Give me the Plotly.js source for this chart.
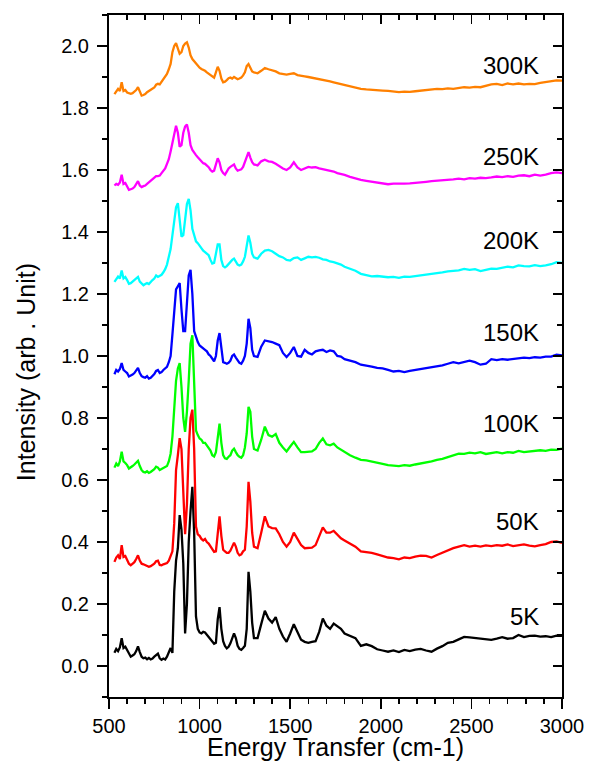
<!DOCTYPE html>
<html>
<head>
<meta charset="utf-8">
<script src="https://cdn.plot.ly/plotly-3.0.1.min.js"></script>
<style>html,body{margin:0;padding:0;background:#fff;}#chart{width:590px;height:776px;}</style>
</head>
<body>
<div id="chart"></div>
<script>
// Energy transfer grid (cm-1)
var energy = [
530,540,550,560,570,580,590,600,610,620,
630,640,650,660,670,680,690,700,710,720,
730,740,750,760,770,780,790,800,810,820,
830,840,850,860,870,880,890,900,910,920,
930,940,950,960,970,980,990,1000,1010,1020,
1030,1040,1050,1060,1070,1080,1090,1100,1110,1120,
1130,1140,1150,1160,1170,1180,1190,1200,1210,1220,
1230,1240,1250,1260,1270,1280,1290,1300,
1320,1340,1360,1380,1400,1420,1440,1460,1480,1500,1520,1540,1560,1580,1600,1620,1640,1660,1680,1700,1720,1740,1760,1780,1800,
1830,1860,1890,1920,1950,1980,2010,2040,2070,2100,2130,2160,2190,2220,2250,2280,2310,2340,2370,2400,
2430,2460,2490,2520,2550,2580,2610,2640,2670,2700,2730,2760,2790,2820,2850,2880,2910,2940,2970,3000
];

var labels = ["5K","50K","100K","150K","200K","250K","300K"];
var colors = ["#000000","#FF0000","#00FF00","#0000FF","#00FFFF","#FF00FF","#FF8000"];
var labelY = [0.16, 0.465, 0.782, 1.076, 1.371, 1.645, 1.937];

var i5K = [
.043,.055,.048,.06,.09,.058,.062,.05,.038,.03,
.034,.038,.048,.063,.045,.03,.025,.027,.022,.026,
.021,.024,.03,.036,.04,.025,.02,.024,.021,.03,
.045,.058,.042,.24,.34,.38,.487,.44,.33,.105,
.2,.4,.5,.578,.43,.16,.12,.108,.105,.11,
.108,.1,.096,.088,.08,.072,.075,.15,.19,.12,
.08,.065,.057,.062,.073,.09,.105,.09,.065,.055,
.052,.058,.065,.12,.304,.24,.14,.09,
.09,.135,.178,.153,.14,.158,.12,.095,.078,.105,.135,.11,.085,.078,.075,.078,.08,.11,.153,.13,.12,.137,.128,.12,.105,
.098,.09,.065,.07,.064,.054,.05,.046,.05,.045,.052,.048,.053,.055,.05,.046,.056,.064,.075,.078,
.086,.094,.092,.09,.09,.086,.084,.088,.093,.088,.09,.1,.093,.097,.098,.095,.096,.093,.098,.097
];
var i50K = [
.336,.35,.357,.345,.39,.352,.355,.34,.33,.325,
.33,.335,.345,.357,.34,.33,.328,.325,.322,.32,
.322,.325,.33,.338,.34,.326,.325,.328,.33,.332,
.34,.355,.37,.46,.632,.68,.735,.7,.58,.425,
.52,.7,.8,.827,.7,.45,.425,.42,.41,.405,
.41,.4,.395,.385,.375,.368,.37,.44,.483,.42,
.375,.37,.365,.365,.372,.385,.398,.385,.365,.357,
.36,.37,.375,.45,.594,.53,.43,.385,
.38,.43,.483,.45,.445,.444,.425,.4,.385,.4,.43,.41,.39,.38,.38,.382,.39,.42,.447,.43,.43,.436,.425,.412,.405,
.395,.385,.37,.368,.365,.36,.355,.35,.348,.344,.35,.348,.353,.356,.355,.35,.358,.365,.374,.38,
.385,.39,.385,.388,.385,.389,.387,.39,.388,.392,.387,.39,.392,.388,.386,.39,.393,.4,.402,.397
];
var i100K = [
.64,.653,.645,.66,.691,.66,.655,.648,.637,.64,
.645,.65,.655,.662,.645,.632,.626,.624,.628,.623,
.626,.63,.635,.643,.64,.632,.635,.638,.64,.645,
.66,.685,.74,.84,.92,.96,.977,.9,.8,.755,
.82,.92,1.04,1.067,.9,.76,.745,.734,.73,.72,
.72,.712,.705,.695,.68,.676,.69,.74,.782,.72,
.68,.67,.668,.675,.68,.695,.701,.69,.68,.675,
.672,.68,.705,.75,.836,.82,.74,.7,
.695,.73,.772,.745,.74,.748,.72,.705,.692,.708,.723,.705,.69,.69,.69,.692,.7,.72,.734,.715,.712,.717,.705,.698,.69,
.68,.672,.665,.663,.66,.655,.652,.648,.647,.645,.648,.646,.65,.653,.656,.66,.665,.668,.674,.68,
.685,.684,.688,.686,.69,.684,.688,.69,.686,.69,.688,.694,.69,.692,.696,.696,.694,.698,.697,.701
];
var i150K = [
.941,.955,.95,.958,.977,.955,.95,.945,.934,.936,
.94,.945,.955,.962,.945,.935,.932,.93,.935,.927,
.93,.935,.942,.952,.955,.945,.948,.955,.96,.965,
.98,1.0,1.07,1.16,1.215,1.225,1.235,1.15,1.08,1.08,
1.18,1.26,1.278,1.2,1.08,1.06,1.045,1.034,1.03,1.025,
1.02,1.015,1.005,1.0,.99,.983,1.0,1.05,1.074,1.02,
.98,.978,.975,.978,.985,1.0,1.005,.995,.985,.978,
.975,.985,1.0,1.04,1.12,1.09,1.02,1.0,
.997,1.03,1.05,1.048,1.045,1.04,1.035,1.01,.997,1.01,1.029,1.0,.998,1.02,1.01,1.005,1.015,1.018,1.02,1.013,1.018,1.015,1.0,.998,.99,
.985,.98,.972,.97,.966,.962,.96,.955,.95,.952,.948,.952,.955,.958,.96,.962,.965,.97,.975,.98,
.976,.98,.985,.98,.972,.975,.99,.987,.99,.988,.99,.992,.995,.993,.996,.995,.998,.998,1.004,1.002
];
var i200K = [
1.239,1.25,1.256,1.25,1.276,1.25,1.255,1.245,1.233,1.235,
1.24,1.245,1.25,1.255,1.24,1.232,1.228,1.232,1.235,1.232,
1.24,1.245,1.25,1.26,1.255,1.258,1.262,1.27,1.28,1.295,
1.32,1.345,1.39,1.44,1.48,1.493,1.44,1.385,1.39,1.44,
1.49,1.507,1.47,1.41,1.39,1.37,1.364,1.355,1.345,1.34,
1.335,1.33,1.325,1.31,1.298,1.3,1.33,1.36,1.36,1.31,
1.29,1.286,1.29,1.298,1.305,1.31,1.314,1.305,1.295,1.292,
1.295,1.305,1.32,1.355,1.389,1.365,1.33,1.318,
1.314,1.33,1.34,1.342,1.338,1.33,1.322,1.318,1.31,1.308,1.316,1.318,1.31,1.315,1.32,1.318,1.32,1.317,1.312,1.31,1.305,1.303,1.3,1.295,1.288,
1.282,1.275,1.265,1.26,1.257,1.258,1.255,1.254,1.255,1.252,1.256,1.255,1.258,1.26,1.263,1.266,1.268,1.27,1.273,1.274,
1.276,1.281,1.278,1.28,1.274,1.278,1.282,1.281,1.284,1.288,1.286,1.292,1.29,1.289,1.293,1.29,1.292,1.296,1.303,1.3
];
var i250K = [
1.55,1.555,1.552,1.56,1.585,1.555,1.558,1.545,1.536,1.538,
1.54,1.545,1.555,1.564,1.55,1.545,1.548,1.55,1.555,1.56,
1.565,1.572,1.577,1.58,1.58,1.582,1.59,1.598,1.605,1.62,
1.635,1.66,1.69,1.72,1.743,1.72,1.675,1.68,1.72,1.74,
1.747,1.72,1.68,1.665,1.655,1.648,1.641,1.635,1.628,1.622,
1.62,1.615,1.609,1.6,1.595,1.598,1.62,1.638,1.625,1.6,
1.59,1.585,1.595,1.605,1.61,1.615,1.618,1.605,1.598,1.6,
1.602,1.61,1.625,1.645,1.658,1.64,1.625,1.618,
1.615,1.628,1.633,1.628,1.626,1.62,1.612,1.605,1.6,1.608,1.625,1.608,1.6,1.606,1.61,1.608,1.609,1.605,1.603,1.6,1.598,1.595,1.59,1.588,1.584,
1.578,1.572,1.568,1.565,1.562,1.561,1.558,1.554,1.556,1.555,1.556,1.557,1.558,1.56,1.562,1.564,1.565,1.566,1.568,1.57,
1.572,1.57,1.574,1.572,1.575,1.574,1.576,1.579,1.577,1.58,1.578,1.582,1.583,1.58,1.585,1.582,1.585,1.59,1.592,1.59
];
var i300K = [
1.845,1.855,1.862,1.855,1.883,1.855,1.858,1.85,1.848,1.846,
1.848,1.852,1.858,1.867,1.85,1.84,1.842,1.845,1.851,1.855,
1.858,1.862,1.866,1.875,1.878,1.876,1.885,1.894,1.9,1.91,
1.925,1.942,1.98,2.0,2.009,1.995,1.975,1.98,2.0,2.008,
2.012,1.995,1.97,1.958,1.95,1.942,1.935,1.93,1.926,1.924,
1.92,1.915,1.91,1.908,1.9,1.898,1.915,1.933,1.92,1.895,
1.883,1.885,1.89,1.896,1.898,1.895,1.9,1.895,1.893,1.895,
1.898,1.905,1.915,1.935,1.942,1.93,1.918,1.915,
1.912,1.92,1.929,1.925,1.922,1.918,1.912,1.91,1.908,1.91,1.912,1.906,1.905,1.902,1.9,1.898,1.896,1.894,1.892,1.89,1.886,1.883,1.88,1.878,1.874,
1.87,1.866,1.862,1.86,1.858,1.857,1.856,1.855,1.853,1.851,1.853,1.852,1.854,1.856,1.858,1.86,1.862,1.861,1.863,1.862,
1.865,1.867,1.866,1.868,1.867,1.872,1.876,1.878,1.874,1.879,1.876,1.879,1.876,1.878,1.877,1.881,1.883,1.886,1.889,1.888
];

var series = [i5K, i50K, i100K, i150K, i200K, i250K, i300K];
var FONT = "Liberation Sans, Arial, sans-serif";

var traces = series.map(function(s, k){
  return {x: energy, y: s, type: "scatter", mode: "lines", name: labels[k],
          line: {color: colors[k], width: 2.3}, hoverinfo: "skip", showlegend: false};
});
traces.push({x: [null], y: [null], xaxis: "x2", yaxis: "y2", type: "scatter", mode: "lines", showlegend: false, hoverinfo: "skip"});

var annotations = labels.map(function(t, k){
  return {x: 2885, y: labelY[k], xref: "x", yref: "y", text: t, showarrow: false,
          xanchor: "right", yanchor: "middle", font: {family: FONT, size: 24, color: "#000"}};
});
// axis titles
annotations.push({x: 0.5, y: -0.073, xref: "paper", yref: "paper", text: "Energy Transfer (cm-1)",
  showarrow: false, xanchor: "center", yanchor: "middle", font: {family: FONT, size: 25, color: "#000"}});
annotations.push({x: -0.183, y: 0.4765, xref: "paper", yref: "paper", text: "Intensity (arb . Unit)",
  showarrow: false, textangle: -90, xanchor: "center", yanchor: "middle", font: {family: FONT, size: 25, color: "#000"}});

var axBase = {showline: true, linecolor: "#000", linewidth: 2, showgrid: false, zeroline: false,
              tickcolor: "#000", tickwidth: 1.5};

var layout = {
  width: 590, height: 776,
  margin: {l: 109, r: 28, t: 15, b: 79},
  paper_bgcolor: "#fff", plot_bgcolor: "#fff",
  font: {family: FONT, color: "#000"},
  showlegend: false,
  annotations: annotations,
  xaxis: Object.assign({}, axBase, {
    range: [500, 3000], tick0: 500, dtick: 500, ticks: "outside", ticklen: 10,
    minor: {dtick: 100, ticks: "outside", ticklen: 5, tickcolor: "#000", tickwidth: 1.5},
    tickfont: {family: FONT, size: 20, color: "#000"}
  }),
  yaxis: Object.assign({}, axBase, {
    range: [-0.1, 2.1], tick0: 0, dtick: 0.2, tickformat: ".1f", ticks: "outside", ticklen: 10,
    minor: {dtick: 0.1, ticks: "outside", ticklen: 5, tickcolor: "#000", tickwidth: 1.5},
    tickfont: {family: FONT, size: 20, color: "#000"}, ticklabelstandoff: 4
  }),
  xaxis2: Object.assign({}, axBase, {
    overlaying: "x", side: "top", anchor: "y2", range: [500, 3000], tick0: 500, dtick: 500,
    ticks: "inside", ticklen: 9, showticklabels: false,
    minor: {dtick: 100, ticks: "inside", ticklen: 5, tickcolor: "#000", tickwidth: 1.5}
  }),
  yaxis2: Object.assign({}, axBase, {
    overlaying: "y", side: "right", anchor: "x2", range: [-0.1, 2.1], tick0: 0, dtick: 0.2,
    ticks: "inside", ticklen: 9, showticklabels: false,
    minor: {dtick: 0.1, ticks: "inside", ticklen: 5, tickcolor: "#000", tickwidth: 1.5}
  })
};

Plotly.newPlot("chart", traces, layout, {displayModeBar: false, staticPlot: true});
</script>
</body>
</html>
